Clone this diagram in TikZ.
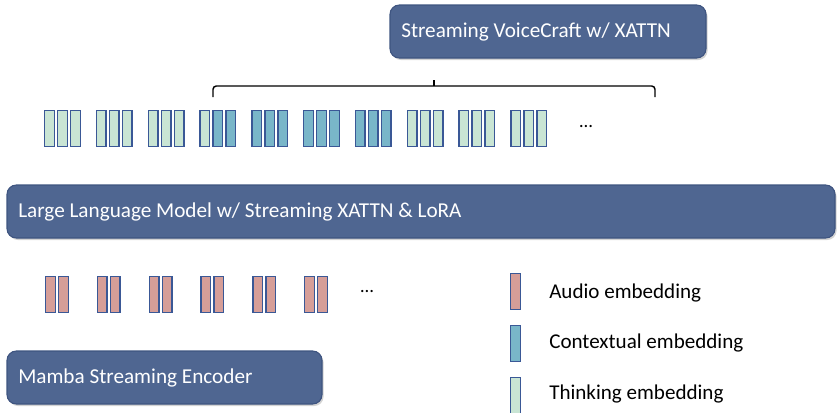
\documentclass[tikz,border=0pt]{standalone}
\usepackage{fontspec}
\setmainfont{Carlito}
\usepackage{tikz}
\usetikzlibrary{shadows,calc}
\definecolor{boxblue}{RGB}{79,102,145}
\definecolor{boxline}{RGB}{62,84,128}
\definecolor{embline}{RGB}{58,88,150}
\definecolor{audiored}{RGB}{214,158,152}
\definecolor{ctxblue}{RGB}{121,182,201}
\definecolor{thinkgreen}{RGB}{201,229,212}

\tikzset{
  modelbox/.style={draw=boxline,line width=0.8pt,fill=boxblue,rounded corners=7pt,
    drop shadow={shadow xshift=1.2pt,shadow yshift=-1.5pt,opacity=0.35}},
  modeltext/.style={text=white,anchor=west,inner sep=0pt,font=\fontsize{15.9}{18}\selectfont},
  emb/.style={draw=embline,line width=1.1pt,minimum width=7.2pt,minimum height=26.8pt,inner sep=0pt},
  audio/.style={emb,fill=audiored},
  ctx/.style={emb,fill=ctxblue},
  think/.style={emb,fill=thinkgreen},
  legtext/.style={anchor=west,inner sep=0pt,font=\fontsize{15.8}{18}\selectfont}
}

\begin{document}
\begin{tikzpicture}[x=0.75pt,y=-0.75pt]
    \useasboundingbox (0,0) rectangle (839,412);

    % Model boxes
    \draw[modelbox] (390,5) rectangle (706,58);
    \node[modeltext] (vc) at (401,32) {Streaming VoiceCraft w/ XATTN};
    \draw[modelbox] (7,185) rectangle (835,238);
    \node[modeltext] (llm) at (18,212) {Large Language Model w/ Streaming XATTN \& LoRA};
    \draw[modelbox] (7,351) rectangle (322,404);
    \node[modeltext] (enc) at (18,378) {Mamba Streaming Encoder};

    % Brace over the output tokens
    \coordinate (braceL) at (213,97);
    \coordinate (braceR) at (655,97);
    \coordinate (braceTip) at (434,80);
    \draw[line width=1.1pt,rounded corners=2.5pt] (braceL) |- (434,86) -| (braceR);
    \draw[line width=1.1pt] (434,86) -- (braceTip);

    % LLM output embeddings
    \foreach \g/\a/\b/\c in {0/think/think/think,1/think/think/think,2/think/think/think,
        3/think/ctx/ctx,4/ctx/ctx/ctx,5/ctx/ctx/ctx,6/ctx/ctx/ctx,
        7/think/think/think,8/think/think/think,9/think/think/think}
      \foreach \k/\s in {0/\a,1/\b,2/\c}
        \node[\s] (out-\g-\k) at (49.5+51.8*\g+13*\k,128.5) {};
    \node (outdots) at (586,127) {\fontsize{14}{16}\selectfont\dots};

    % Encoder output embeddings
    \foreach \p in {0,...,5}
      \foreach \k in {0,1}
        \node[audio] (in-\p-\k) at (50.5+51.8*\p+13*\k,294.5) {};
    \node (indots) at (367,292) {\fontsize{14}{16}\selectfont\dots};

    % Legend
    \node[audio] (legA) at (515.5,291.5) {};
    \node[ctx] (legC) at (515.5,343.5) {};
    \node[think] (legT) at (515.5,395.5) {};
    \node[legtext] (legAtxt) at (549,293) {Audio embedding};
    \node[legtext] (legCtxt) at (549,343) {Contextual embedding};
    \node[legtext] (legTtxt) at (549,394) {Thinking embedding};
\end{tikzpicture}
\end{document}
